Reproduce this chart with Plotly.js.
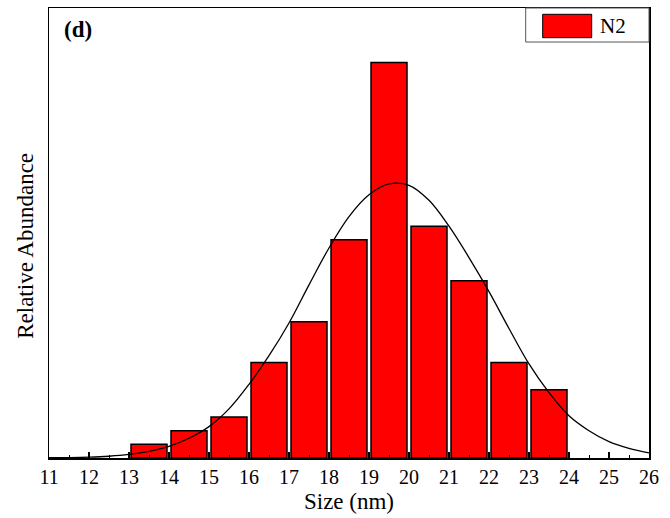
<!DOCTYPE html>
<html>
<head>
<meta charset="utf-8">
<script src="https://cdn.plot.ly/plotly-3.0.1.min.js"></script>
<style>html,body{margin:0;padding:0;background:#fff;}#chart{width:670px;height:518px;}</style>
</head>
<body>
<div id="chart"></div>
<script>
// Histogram bins (left edge of each 1 nm bin) and counts
const binStart = [13, 14, 15, 16, 17, 18, 19, 20, 21, 22, 23];
const counts   = [1, 2, 3, 7, 10, 16, 29, 17, 13, 7, 5];

// Fitted curve
const fitX = [11, 11.5, 12, 12.5, 13, 13.5, 14, 14.5, 15, 15.5, 16, 16.5, 17, 17.5, 18, 18.5, 19, 19.5, 20, 20.5, 21, 21.5, 22, 22.5, 23, 23.5, 24, 24.5, 25, 25.5, 26];
const fitY = [0.02, 0.03, 0.06, 0.13, 0.26, 0.48, 0.85, 1.45, 2.3, 3.6, 5.4, 7.5, 9.9, 12.7, 15.4, 17.7, 19.3, 20.1, 20.0, 18.9, 17.0, 14.7, 12.2, 9.5, 6.9, 4.8, 3.1, 2.0, 1.2, 0.7, 0.37];

const xTicks = [11, 12, 13, 14, 15, 16, 17, 18, 19, 20, 21, 22, 23, 24, 25, 26];
const seriesName = 'N2';
const panelLabel = '(d)';
const xTitle = 'Size (nm)';
const yTitle = 'Relative Abundance';

const serif = '"Liberation Serif", "Times New Roman", Times, serif';

const traces = [
  {
    type: 'bar',
    x: binStart,
    y: counts,
    offset: 0.05,
    width: 0.9,
    name: seriesName,
    marker: {color: '#ff0000', line: {color: '#000000', width: 1.5}},
    hoverinfo: 'x+y'
  },
  {
    type: 'scatter',
    mode: 'lines',
    x: fitX,
    y: fitY,
    line: {color: '#000000', width: 1.3, shape: 'spline', smoothing: 1},
    hoverinfo: 'skip'
  }
];

const layout = {
  width: 670,
  height: 518,
  margin: {l: 49, r: 21, t: 8, b: 60},
  paper_bgcolor: '#ffffff',
  plot_bgcolor: '#ffffff',
  showlegend: false,
  bargap: 0,
  font: {family: serif, color: '#000000'},
  xaxis: {
    range: [11, 26],
    tickvals: xTicks,
    ticktext: xTicks.map(String),
    ticks: 'inside',
    ticklen: 6,
    tickwidth: 1.5,
    tickcolor: '#000000',
    minor: {dtick: 0.5, tick0: 11, ticks: 'inside', ticklen: 3, tickwidth: 1, tickcolor: '#000000', showgrid: false},
    showline: true,
    linecolor: '#000000',
    linewidth: 1.5,
    mirror: true,
    showgrid: false,
    zeroline: false,
    tickfont: {family: serif, size: 20, color: '#000000'},
    title: {text: xTitle, font: {family: serif, size: 23, color: '#000000'}, standoff: 6}
  },
  yaxis: {
    range: [0, 33],
    showticklabels: false,
    ticks: '',
    showline: true,
    linecolor: '#000000',
    linewidth: 1.5,
    mirror: true,
    showgrid: false,
    zeroline: false
  },
  shapes: [
    {type: 'rect', xref: 'paper', yref: 'paper', x0: 0.7945, x1: 1, y0: 0.9244, y1: 1,
     line: {color: '#555555', width: 1}, fillcolor: '#ffffff', layer: 'above'},
    {type: 'rect', xref: 'paper', yref: 'paper', x0: 0.8228, x1: 0.9045, y0: 0.934, y1: 0.986,
     line: {color: '#000000', width: 1}, fillcolor: '#ff0000', layer: 'above'}
  ],
  annotations: [
    {xref: 'paper', yref: 'paper', x: 0.9145, y: 0.9604, xanchor: 'left', yanchor: 'middle',
     text: seriesName, showarrow: false, font: {family: serif, size: 21, color: '#000000'}},
    {xref: 'paper', yref: 'paper', x: 0.022, y: 0.953, xanchor: 'left', yanchor: 'middle',
     text: '<b>' + panelLabel + '</b>', showarrow: false, font: {family: serif, size: 23, color: '#000000'}},
    {xref: 'paper', yref: 'paper', x: -0.0383, y: 0.4716, xanchor: 'center', yanchor: 'middle',
     textangle: -90, text: yTitle, showarrow: false, font: {family: serif, size: 23, color: '#000000'}}
  ]
};

Plotly.newPlot('chart', traces, layout, {staticPlot: true, displayModeBar: false});
</script>
</body>
</html>
